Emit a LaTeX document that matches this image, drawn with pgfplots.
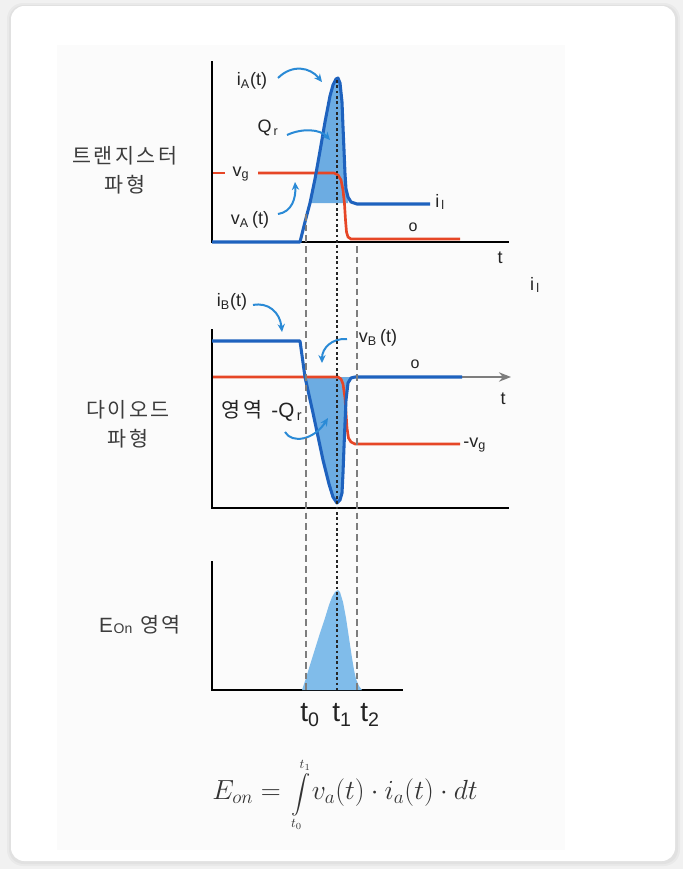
\documentclass[border=0pt]{standalone}
\usepackage{exscale}
\usepackage{fontspec}
\setmainfont{Liberation Sans}
\newfontfamily\kr[LetterSpace=12]{Noto Sans CJK KR}
\usepackage{pgfplots}
\pgfplotsset{compat=1.18}
\usepackage{pgfplotstable}
\usetikzlibrary{arrows.meta}

\definecolor{curveblue}{RGB}{30,98,190}
\definecolor{areablue}{RGB}{108,172,226}
\definecolor{eonblue}{RGB}{128,188,234}
\definecolor{curvered}{RGB}{230,70,38}
\definecolor{notes}{RGB}{42,138,214}
\definecolor{guide}{RGB}{125,125,125}
\definecolor{ink}{RGB}{35,35,35}
\definecolor{sidetext}{RGB}{60,60,60}
\definecolor{panel}{RGB}{251,251,251}
\definecolor{page}{RGB}{241,241,241}

% transistor current i_A(t)
\pgfplotstableread{
x y
0 0
88 0
93 20
98 39
103 63
108 91
113 120
118 146
121 157
124 163
126 164
128 159
130 140
131 115
132 92
133 68
134 53
136 45
139 40
145 38
160 38
218 38
}\iA
% reverse-recovery charge above the load level
\pgfplotstableread{
x y
98 39
103 63
108 91
113 120
118 146
121 157
124 163
126 164
128 159
130 140
131 115
132 92
133 68
134 53
136 45
136 39
}\qrA
% transistor voltage after the step
\pgfplotstableread{
x y
46 69
122 69
126 67
129 62
131 52
132.5 38
133.5 22
134.5 10
136 5
139 3
248 3
}\vg
% diode current i_B(t)
\pgfplotstableread{
x y
0 167
88 167
93 131
101 95
111 48
117 24
121 11
125 5
128 8
130 15
131 35
132 61
134 108
136 125
139 130
143 131
250 131
}\iB
% charge below zero in the diode current
\pgfplotstableread{
x y
93 131
101 95
111 48
117 24
121 11
125 5
128 8
130 15
131 35
132 61
134 108
136 125
139 130
141 131
}\qrB
% diode voltage v_B(t)
\pgfplotstableread{
x y
1 131
126 131
129 129
131 124
133 110
134 95
135 80
136.5 70
139 66
143 64
248 64
}\vB
% switching-loss pulse
\pgfplotstableread{
x y
90 0
94 12
98 25
103 41
108 57
113 72
117 85
120 93
123 98
126 100
128 98
131 88
134 72
137 52
140 32
142 20
144 11
147 4
150 0
}\eon

\pgfplotsset{
  wave/.style={hide axis, scale only axis, clip=false, anchor=south west,
    xmin=0, xmax=296, ymin=0},
}
\tikzset{
  frame/.style={line width=2pt, line join=miter, line cap=rect},
  lbl/.style={text=ink, font=\fontsize{13.5}{16}\selectfont, inner sep=0pt},
  note/.style={notes, line width=1.5pt, -{Stealth[length=6pt,width=5.5pt]}},
}

\begin{document}
\begin{tikzpicture}[x=0.75pt, y=0.75pt]
% page, card and panel
\fill[page] (0,0) rectangle (683,-869);
\fill[black, opacity=0.03, rounded corners=12pt] (7,-3) rectangle (680,-866);
\fill[black, opacity=0.03, rounded corners=11pt] (9,-5) rectangle (678,-864);
\fill[white, rounded corners=10pt] (11,-6) rectangle (675,-861);
\fill[panel] (57,-45) rectangle (565,-850);

% side captions
\node[text=sidetext, align=center, font=\kr\fontsize{15.5}{22}\selectfont] at (125,-170) {트랜지스터\\파형};
\node[text=sidetext, align=center, font=\kr\fontsize{15.5}{22}\selectfont] at (128,-424) {다이오드\\파형};
\node[text=sidetext, font=\fontsize{15.5}{18}\selectfont] at (140,-625)
  {E\kern0.5pt{\fontsize{10.5}{12}\selectfont\raisebox{-0.5pt}{On}}\hspace{6pt}{\kr 영역}};

% ---------- transistor waveforms ----------
\begin{axis}[wave, at={(212,-242)}, width=222pt, height=135pt, ymax=180]
\draw[frame] (axis cs:0,180) -- (axis cs:0,0) -- (axis cs:296,0);
\addplot[fill=areablue, draw=none] table {\qrA};
\addplot[curvered, line width=2pt] coordinates {(1,69) (13,69)};
\addplot[curvered, line width=2pt] table {\vg};
\addplot[curveblue, line width=2.3pt, line join=round] table {\iA};
\coordinate (g0a) at (axis cs:94,28);
\coordinate (g1a) at (axis cs:125,162);
\coordinate (g2a) at (axis cs:145,-4);
\node[lbl] at (axis cs:40,161) {i\textsubscript{A}(t)};
\node[lbl] at (axis cs:56,114) {Q\textsubscript{\,r}};
\node[lbl] at (axis cs:29,68) {v\textsubscript{g}};
\node[lbl] at (axis cs:38,22) {v\textsubscript{A}\,(t)};
\node[lbl, anchor=west] at (axis cs:223,40) {i\textsubscript{\,l}};
\node[lbl, font=\fontsize{12}{14}\selectfont] at (axis cs:201,15) {o};
\node[lbl] at (axis cs:288,-16) {t};
\draw[note] (axis cs:66,164) .. controls (axis cs:80,178) and (axis cs:98,175) .. (axis cs:110,160);
\draw[note] (axis cs:75,107) .. controls (axis cs:90,114) and (axis cs:108,113) .. (axis cs:118,102);
\draw[note] (axis cs:66,28) .. controls (axis cs:80,30) and (axis cs:84,44) .. (axis cs:83,60);
\end{axis}

\node[text=ink, font=\fontsize{13.5}{16}\selectfont] at (535,-285) {i\textsubscript{\,l}};

% ---------- diode waveforms ----------
\begin{axis}[wave, at={(212,-508)}, width=222pt, height=133.5pt, ymax=178]
\draw[frame] (axis cs:0,178) -- (axis cs:0,0) -- (axis cs:296,0);
\addplot[fill=areablue, draw=none] table {\qrB};
\draw[guide, line width=1.4pt, -{Stealth[length=9pt,width=7pt]}] (axis cs:246,131) -- (axis cs:299,131);
\addplot[curvered, line width=2pt] table {\vB};
\addplot[curveblue, line width=2.3pt, line join=round] table {\iB};
\node[lbl] at (axis cs:20,206) {i\textsubscript{B}(t)};
\node[lbl] at (axis cs:166,170) {v\textsubscript{B}\,(t)};
\node[lbl, font=\fontsize{12}{14}\selectfont] at (axis cs:203,144) {o};
\node[lbl] at (axis cs:291,109) {t};
\node[lbl, anchor=west] at (axis cs:251,63) {-v\textsubscript{g}};
\node[lbl, font=\fontsize{15.5}{18}\selectfont] at (axis cs:50,97) {{\kr 영역}\, -Q\textsubscript{\,r}};
\draw[note] (axis cs:41,203) .. controls (axis cs:56,206) and (axis cs:68,196) .. (axis cs:70,176);
\draw[note] (axis cs:135,169) .. controls (axis cs:120,170) and (axis cs:110,160) .. (axis cs:110,145);
\draw[note] (axis cs:73,76) .. controls (axis cs:80,64) and (axis cs:102,68) .. (axis cs:116,90);
\end{axis}

% ---------- turn-on loss ----------
\begin{axis}[wave, at={(212,-690)}, width=142.5pt, height=96pt, xmax=190, ymax=128]
\draw[frame] (axis cs:0,128) -- (axis cs:0,0) -- (axis cs:190,0);
\addplot[fill=eonblue, draw=none] table {\eon} \closedcycle;
\coordinate (g0b) at (axis cs:94,0);
\coordinate (g1b) at (axis cs:125,0);
\coordinate (g2b) at (axis cs:145,0);
\node[lbl, font=\fontsize{21}{24}\selectfont] at (axis cs:98,-25) {t\textsubscript{0}};
\node[lbl, font=\fontsize{21}{24}\selectfont] at (axis cs:130,-25) {t\textsubscript{1}};
\node[lbl, font=\fontsize{21}{24}\selectfont] at (axis cs:158,-25) {t\textsubscript{2}};
\end{axis}

% time markers through all three panels
\draw[guide, line width=1.3pt, dash pattern=on 5pt off 3pt] (g0a) -- (g0b);
\draw[guide, line width=1.3pt, dash pattern=on 5pt off 3pt] (g2a) -- (g2b);
\draw[black!85, line width=0.8pt, dash pattern=on 2pt off 2pt] (g1a) -- (g1b);

% turn-on energy
\node[text=black!80, font=\fontsize{20.74}{25}\selectfont, inner sep=0pt] at (345,-795)
  {$E_{on}={}$\hspace{2pt}{\fontsize{14.4}{17}\selectfont$\displaystyle\int\limits_{t_0}^{t_1}$}\hspace{1pt}$v_a(t)\cdot i_a(t)\cdot dt$};
\end{tikzpicture}
\end{document}
